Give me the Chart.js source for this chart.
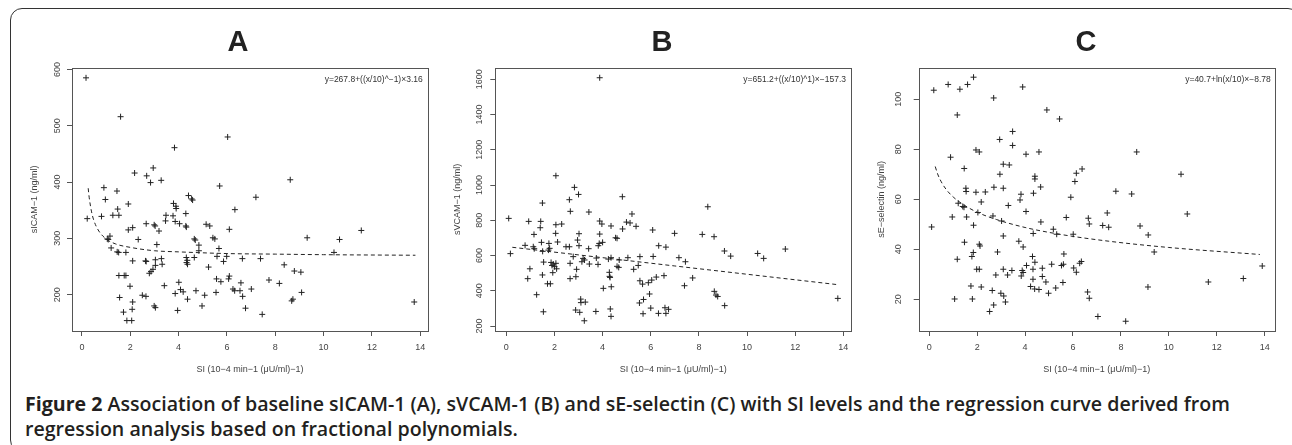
<!DOCTYPE html>
<html><head><meta charset="utf-8">
<script src="https://cdn.jsdelivr.net/npm/chart.js@4.4.1/dist/chart.umd.min.js"></script>
<style>
html,body{margin:0;padding:0;background:#fff;width:1292px;height:445px;overflow:hidden;position:relative;}
#frame{position:absolute;left:10px;top:8px;width:1290px;height:444px;border:1.5px solid #333;border-radius:12px;box-sizing:border-box;}
canvas{position:absolute;top:8px;}
#caption{position:absolute;left:25px;top:390.5px;font-family:'Open Sans',sans-serif;font-weight:600;font-size:19.6px;line-height:25px;color:#231f20;white-space:nowrap;}
#caption b{font-weight:700;}
</style></head><body>
<div id="frame"></div>
<canvas id="cA" width="424" height="377" style="left:26px;width:424px;height:377px"></canvas>
<canvas id="cB" width="424" height="377" style="left:450px;width:424px;height:377px"></canvas>
<canvas id="cC" width="424" height="377" style="left:874px;width:424px;height:377px"></canvas>
<div id="caption"><b>Figure 2</b> Association of baseline sICAM-1 (A), sVCAM-1 (B) and sE-selectin (C) with SI levels and the regression curve derived from<br>regression analysis based on fractional polynomials.</div>
<script>
// ---- data ----
const xTickValues = [0, 2, 4, 6, 8, 10, 12, 14];
const yTicksA = [200, 300, 400, 500, 600];
const yTicksB = [200, 400, 600, 800, 1000, 1200, 1400, 1600];
const yTicksC = [20, 40, 60, 80, 100];
const panelTitles = ['A', 'B', 'C'];
const yTitles = ['sICAM\u22121 (ng/ml)', 'sVCAM\u22121 (ng/ml)', 'sE\u2212selectin (ng/ml)'];
const xTitle = 'SI (10\u22124 min\u22121 (\u03bcU/ml)\u22121)';
const equations = ['y=267.8+((x/10)^\u22121)\u00d73.16', 'y=651.2+((x/10)^1)\u00d7\u2212157.3', 'y=40.7+ln(x/10)\u00d7\u22128.78'];

const aX = [0.17,0.22,1.6,0.91,0.97,0.81,1.45,1.48,1.28,1.53,
1.92,1.05,1.16,1.09,1.21,1.46,1.52,1.82,1.53,1.82,
1.75,1.56,1.72,1.86,2.06,1.99,2.1,2.08,1.92,2.1,
2.1,2.18,2.33,2.66,2.68,2.84,2.95,3.28,2.99,3.03,
3.19,3.1,2.63,2.66,3.04,3.29,3.32,3.04,2.94,2.86,
2.79,2.5,2.65,2.99,3.04,3.41,3.46,3.48,3.77,3.79,
3.89,3.9,3.86,4.04,3.83,4.3,4.3,4.32,4.41,4.54,
4.58,4.65,4.69,4.84,4.84,4.32,4.36,4.37,4.33,4.65,
4.01,4.08,4.19,4.37,3.86,3.96,4.72,5.08,4.97,5.14,
5.29,5.42,5.5,5.24,5.67,5.59,5.7,5.57,5.75,5.55,
5.86,5.99,6.03,6.1,6.07,6.1,6.33,6.25,6.32,6.64,
6.58,6.54,6.65,6.77,7.01,7.2,7.39,7.46,7.74,8.17,
8.37,8.62,8.79,9.06,8.68,8.73,9.09,9.32,10.43,10.66,
11.56,13.75];
const aY = [585,335,516,390,369,339,384,352,341,341,
361,299,304,298,283,276,275,275,234,234,
234,195,169,154,154,215,187,174,315,319,
260,416,298,326,411,399,425,403,324,322,
313,289,260,259,262,264,254,252,245,241,
238,199,197,180,177,216,331,341,340,362,
357,353,330,326,461,344,322,320,376,370,
368,299,297,288,278,266,261,254,257,266,
222,209,205,192,202,172,207,199,180,325,
322,301,299,249,282,268,393,228,223,204,
259,268,480,316,228,233,351,210,207,264,
221,207,197,176,210,373,264,165,226,220,
253,404,242,240,189,192,204,301,275,298,
314,187];

const bX = [0.1,0.17,0.93,0.78,1.15,1.12,1.16,0.98,0.89,1.26,
1.5,1.43,1.41,1.46,1.51,1.55,1.5,1.54,1.71,1.83,
1.77,1.75,1.8,1.86,1.9,1.93,1.95,2.0,2.06,2.09,
2.06,2.06,2.05,2.13,2.3,2.48,2.62,2.62,2.66,2.83,
3.0,2.78,2.65,2.65,2.92,2.89,3.02,2.96,3.02,3.19,
3.14,3.25,3.45,3.42,3.43,3.09,3.1,3.28,2.88,3.05,
3.24,3.72,3.74,3.81,3.82,3.86,3.88,3.88,3.97,4.0,
3.88,4.03,4.35,4.24,4.35,4.28,4.29,4.31,4.36,4.32,
4.35,4.54,4.6,4.69,4.6,4.67,4.82,4.83,4.99,5.14,
5.22,5.39,5.05,5.29,5.48,5.55,5.55,5.53,5.7,5.66,
5.9,6.04,5.95,5.68,6.0,6.1,6.08,6.23,6.33,6.32,
6.55,6.63,6.59,6.63,6.74,6.99,7.17,7.44,7.4,7.74,
8.14,8.37,8.63,8.64,8.71,8.78,9.06,9.32,9.07,10.44,
10.69,11.59,13.77];
const bY = [811,611,794,658,720,650,639,525,469,378,
898,794,758,675,624,563,490,281,440,440,
669,631,641,561,544,503,552,537,556,525,
1053,775,726,677,779,650,650,917,851,987,
947,594,556,469,522,480,724,688,656,584,
565,575,552,639,847,353,333,336,291,278,
230,283,586,550,656,669,722,796,779,675,
1609,414,768,580,588,505,482,476,423,297,
255,701,698,575,539,533,934,751,790,785,
836,766,588,522,544,594,457,331,351,438,
446,461,382,270,302,595,745,478,656,272,
486,648,304,272,295,726,588,565,429,473,
720,877,707,397,376,368,626,597,316,612,
584,637,357];

const cX = [0.19,0.1,0.79,1.28,1.6,1.85,1.17,0.89,0.96,1.06,
1.17,1.21,1.4,1.46,1.45,1.53,1.54,1.56,1.47,1.74,
1.8,1.78,1.84,1.85,1.95,1.95,2.09,1.98,2.09,2.03,
2.09,2.12,2.17,2.17,2.34,2.69,2.7,2.66,2.63,2.69,
2.52,2.78,2.85,2.94,2.95,3.02,3.09,3.09,3.34,3.3,
3.09,2.99,3.11,3.18,3.09,3.27,3.45,3.48,3.48,3.79,
3.83,3.74,3.92,3.88,3.84,3.92,3.9,4.04,4.04,4.06,
4.23,4.31,4.33,4.33,4.34,4.35,4.4,4.41,4.41,4.41,
4.58,4.65,4.66,4.58,4.72,4.72,4.87,4.91,4.98,5.11,
5.18,5.32,5.28,5.44,5.52,5.6,5.62,5.58,5.72,5.91,
6.01,6.03,6.14,6.08,6.14,6.28,6.35,6.38,6.61,6.68,
6.64,6.68,7.04,7.24,7.43,7.49,7.79,8.2,8.45,8.66,
8.8,9.14,9.13,9.39,10.51,10.77,11.65,13.11,13.9];
const cY = [103.6,48.9,105.9,104,105.9,108.8,93.7,76.8,52.9,20.1,
36,58.4,57.1,72.3,56.8,64.4,63.1,52.9,42.8,25.3,
20.1,37.1,38.7,49.6,62.8,79.7,78.9,32,32,54.7,
42,41.3,58.9,24.9,62.9,100.5,64.8,53.3,23.5,17.7,
15.1,29.7,38.9,83.9,70,51.3,64.4,74,73.7,57.5,
45.3,22.4,21.3,18.9,32,29.7,31.5,87.1,81.5,59.7,
62,43.2,40.9,31.5,29.3,30.7,104.9,78,55.1,33.5,
25.1,37.1,32,28,46.3,62.4,24.1,69.2,68.1,34.8,
78.9,64.9,50.9,23.9,29.1,32.4,26.9,95.7,22.4,34,
48,46,24.5,92.1,33.5,34,38.1,26.7,52.7,60.8,
46,32.5,30.8,67.1,70.4,34.4,35.1,72.1,22.9,20.4,
52.4,50.1,13.1,49.5,54.5,48.8,63.2,11.2,62.1,78.9,
49.3,45.7,24.9,38.9,70,54.1,26.9,28.3,33.3];

// dashed regression curves
const aCurveX = [0.26,0.3,0.4,0.5,0.7,1,1.4,2,3,4,6,8,10,13.8];
const aCurveY = [389,373,347,331,313,299,290,284,278,276,273,272,271,270];
const bCurveX = [0.25,7,13.7];
const bCurveY = [647,541,436];
const cCurveX = [0.25,0.35,0.5,0.7,1,1.4,2,2.8,4,5.5,7.5,10,13.8];
const cCurveY = [73.1,70.1,67.0,64.0,60.9,58.0,54.8,51.9,48.7,45.9,43.2,40.7,37.9];

// axis ranges
const xRangeA = [-0.41, 14.32], yRangeA = [135.5, 603];
const xRangeB = [-0.457, 14.33], yRangeB = [172, 1666];
const xRangeC = [-0.44, 14.42], yRangeC = [7.3, 112.6];

Chart.defaults.font.family = "'Liberation Sans', Arial, Helvetica, sans-serif";

const boxPlugin = {
  id: 'rbox',
  afterDatasetsDraw(chart, args, opts) {
    const ctx = chart.ctx, a = chart.chartArea;
    ctx.save();
    ctx.strokeStyle = '#555';
    ctx.lineWidth = 1;
    ctx.strokeRect(Math.round(a.left) + 0.5, Math.round(a.top) + 0.5, Math.round(a.right - a.left), Math.round(a.bottom - a.top));
    ctx.font = "8.5px 'Liberation Sans', Arial, sans-serif";
    ctx.fillStyle = '#333';
    ctx.textAlign = 'right';
    ctx.textBaseline = 'middle';
    ctx.fillText(opts.text, a.right - opts.dx, a.top + 12.3);
    ctx.restore();
  }
};

function pairs(xs, ys) { return xs.map((x, i) => ({ x: x, y: ys[i] })); }

function makePanel(id, p) {
  const gridOpts = { display: true, drawOnChartArea: false, drawTicks: true, tickLength: 5, color: '#555', lineWidth: 1 };
  new Chart(document.getElementById(id), {
    type: 'scatter',
    data: {
      datasets: [
        { data: pairs(p.xs, p.ys), pointStyle: 'cross', pointRadius: 3, pointBorderWidth: 1,
          pointBorderColor: '#222', pointBackgroundColor: 'rgba(0,0,0,0)', showLine: false },
        { type: 'line', data: pairs(p.cx, p.cy), borderColor: '#222', borderWidth: 1, borderDash: [4, 3],
          pointRadius: 0, fill: false, cubicInterpolationMode: 'monotone' }
      ]
    },
    options: {
      responsive: false, animation: false, events: [],
      layout: { padding: 0 },
      plugins: {
        legend: { display: false }, tooltip: { enabled: false },
        title: { display: true, text: p.title, color: '#222', font: { size: 29, weight: 'bold', lineHeight: 1 },
                 padding: { top: 20.5, bottom: 10.2 } },
        rbox: { text: p.eq, dx: p.eqDx }
      },
      scales: {
        x: {
          type: 'linear', min: p.xr[0], max: p.xr[1],
          afterBuildTicks: s => { s.ticks = xTickValues.map(v => ({ value: v })); },
          afterFit: s => { s.height = 54; },
          grid: gridOpts, border: { display: false },
          ticks: { font: { size: 9 }, color: '#444', padding: 6, maxRotation: 0, autoSkip: false, callback: v => String(v) },
          title: { display: true, text: xTitle, font: { size: 9 }, color: '#444', padding: { top: 0, bottom: 9.6 } }
        },
        y: {
          type: 'linear', min: p.yr[0], max: p.yr[1],
          afterBuildTicks: s => { s.ticks = p.yt.map(v => ({ value: v })); },
          afterFit: s => { s.width = p.yW; },
          grid: gridOpts, border: { display: false },
          ticks: { font: { size: 9 }, color: '#444', padding: p.yPad, minRotation: 90, maxRotation: 90, crossAlign: 'center', autoSkip: false, callback: v => String(v) },
          title: { display: true, text: p.yTitle, font: { size: 9 }, color: '#444', padding: { top: p.yTitlePad, bottom: 0 } }
        },
        yr: {
          type: 'linear', position: 'right', display: true,
          grid: { display: false }, border: { display: false }, ticks: { display: false },
          afterFit: s => { s.width = p.rW; }
        }
      }
    },
    plugins: [boxPlugin]
  });
}

makePanel('cA', { xs: aX, ys: aY, cx: aCurveX, cy: aCurveY, xr: xRangeA, yr: yRangeA, yt: yTicksA,
  title: panelTitles[0], yTitle: yTitles[0], eq: equations[0], eqDx: 5.3, yW: 46, rW: 22, yPad: 2.2, yTitlePad: 3.6 });
makePanel('cB', { xs: bX, ys: bY, cx: bCurveX, cy: bCurveY, xr: xRangeB, yr: yRangeB, yt: yTicksB,
  title: panelTitles[1], yTitle: yTitles[1], eq: equations[1], eqDx: 5.3, yW: 45.3, rW: 22.7, yPad: 0.3, yTitlePad: 2.6 });
makePanel('cC', { xs: cX, ys: cY, cx: cCurveX, cy: cCurveY, xr: xRangeC, yr: yRangeC, yt: yTicksC,
  title: panelTitles[2], yTitle: yTitles[2], eq: equations[2], eqDx: 4, yW: 44.7, rW: 23.3, yPad: 7.2, yTitlePad: 2.3 });
</script>
</body></html>
